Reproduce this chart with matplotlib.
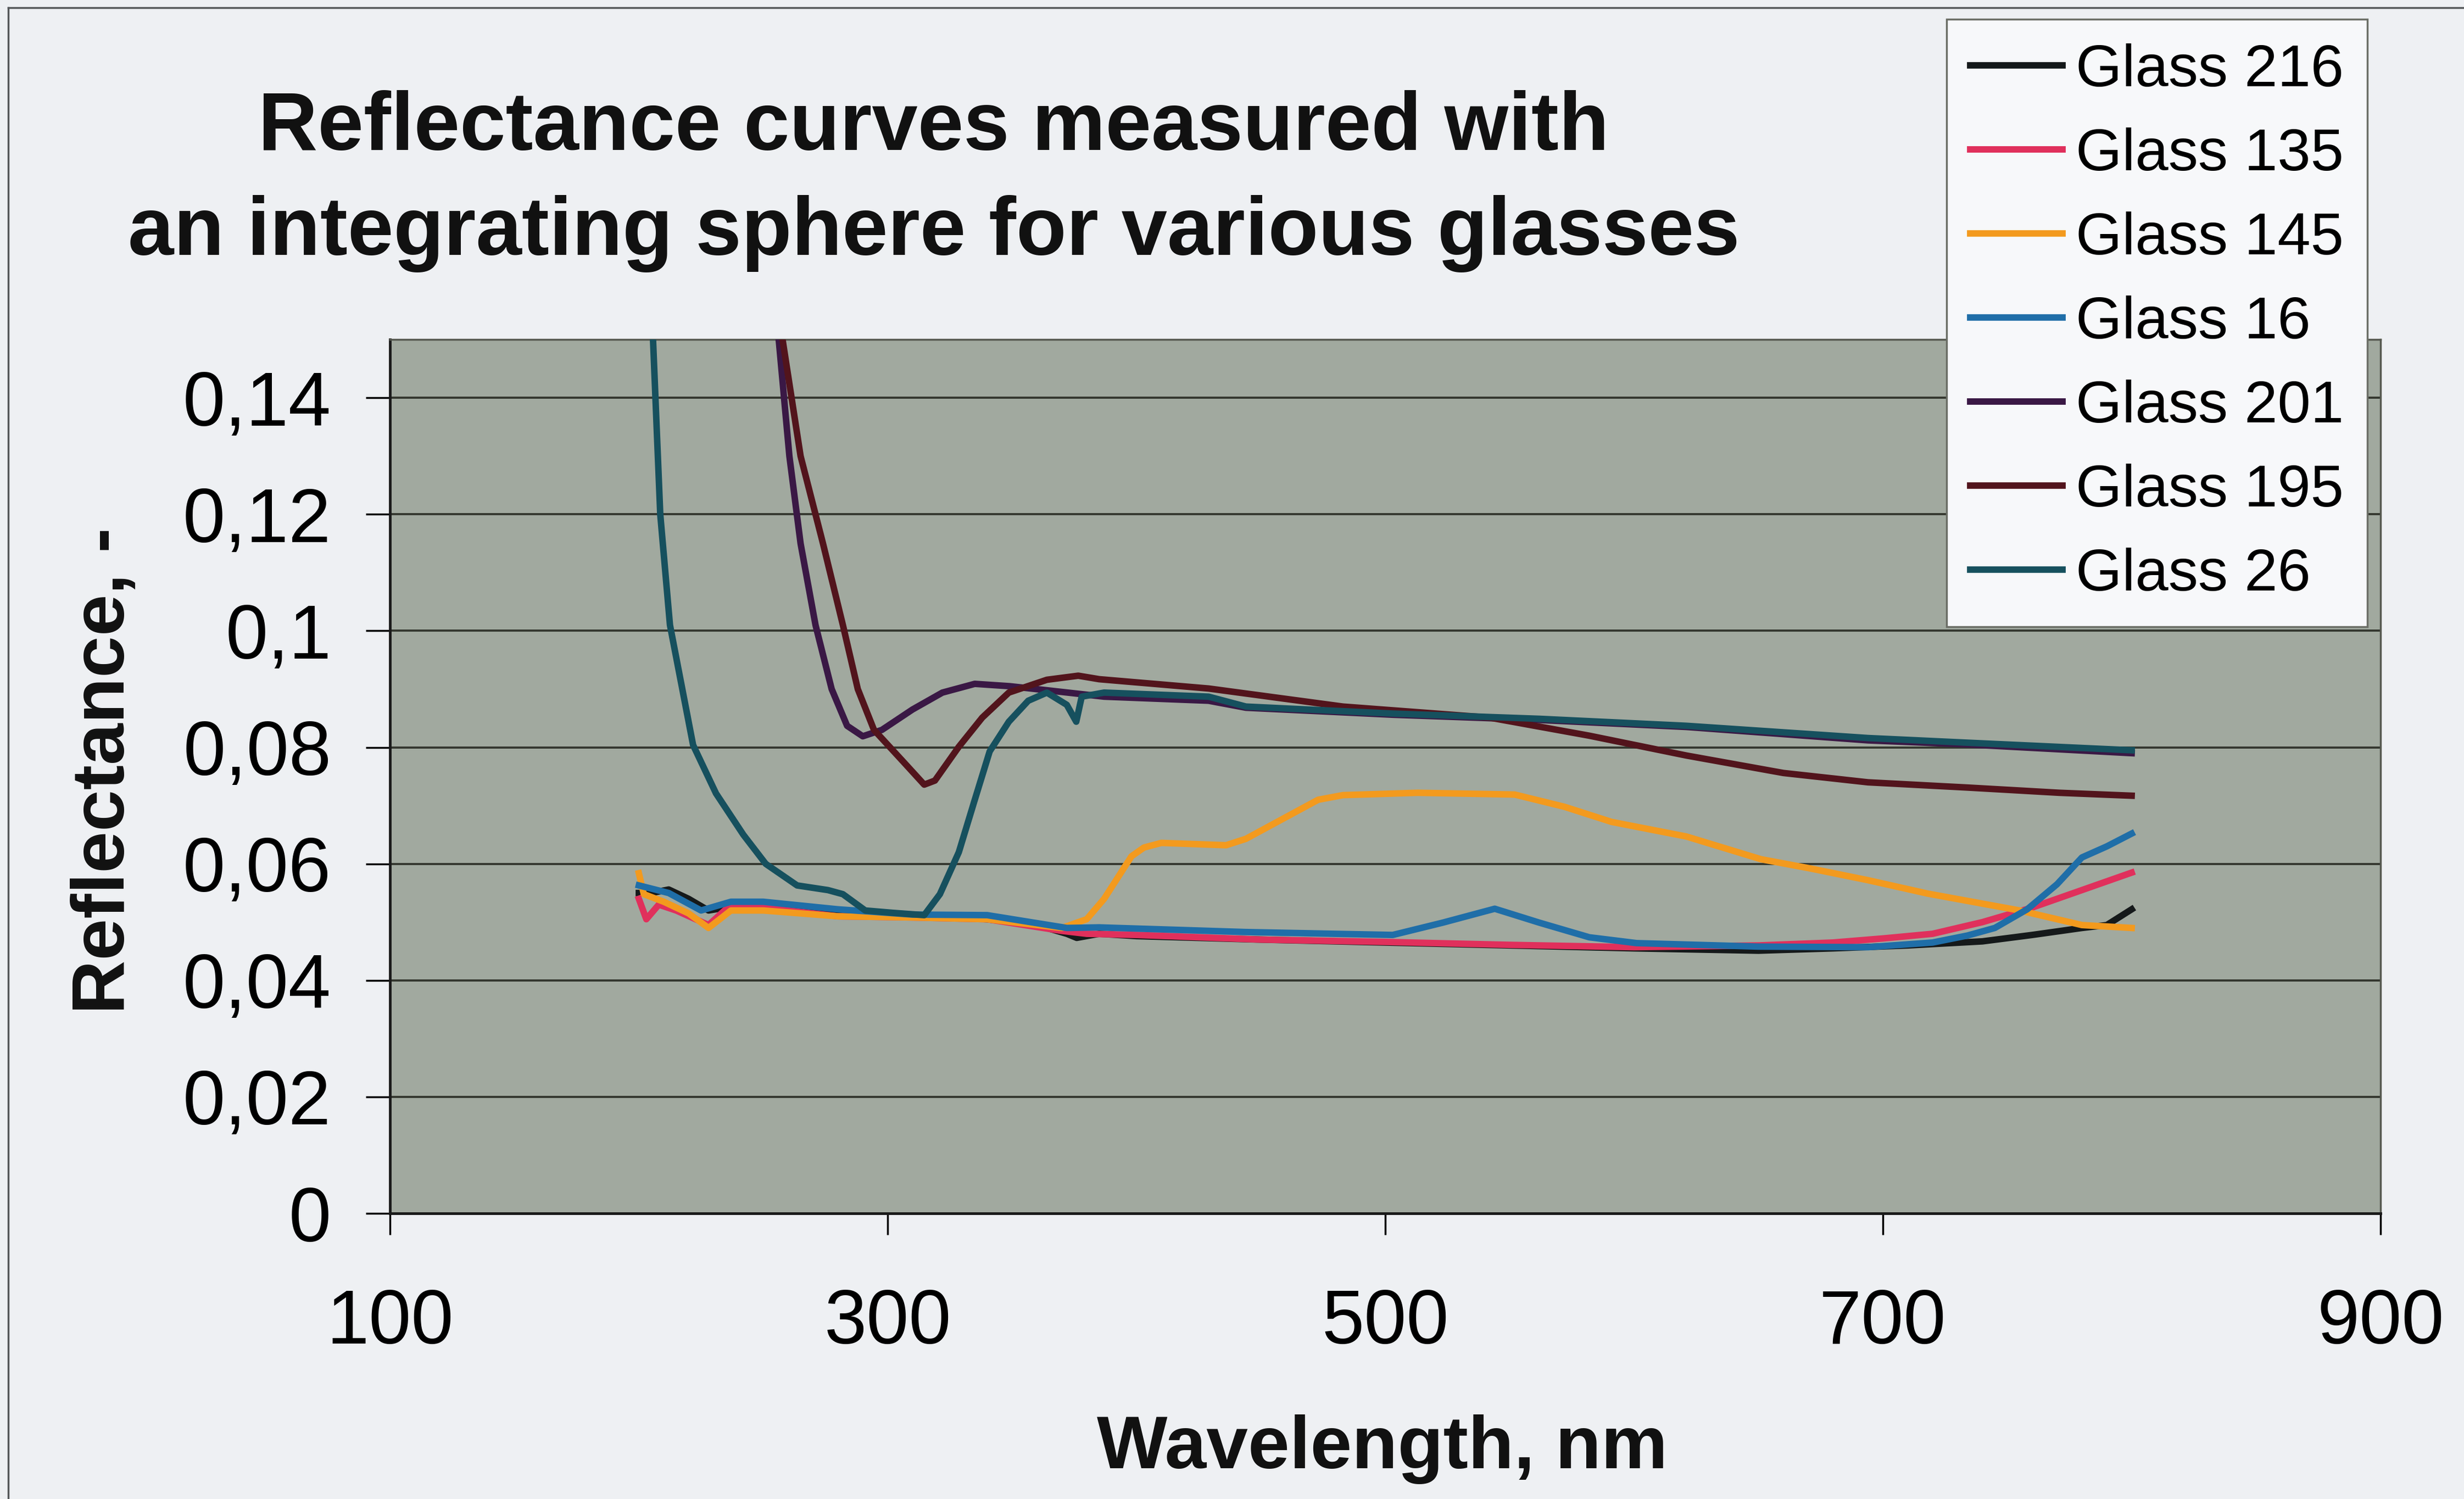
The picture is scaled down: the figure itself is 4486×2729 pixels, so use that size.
import numpy as np
import matplotlib
matplotlib.use("Agg")
import matplotlib.pyplot as plt
from matplotlib.lines import Line2D

plt.rcParams['font.family'] = ['Liberation Sans', 'DejaVu Sans']

# 数据
wl_216 = [200, 205, 212, 220, 228, 235, 245, 260, 280, 300, 320, 340, 360, 372, 376, 385, 400,
          450, 500, 550, 600, 650, 680, 710, 740, 760, 780, 790, 800]
r_216 = [0.055, 0.055, 0.0556, 0.054, 0.052, 0.0525, 0.053, 0.0525, 0.052, 0.0512, 0.051, 0.0505,
         0.0495, 0.048, 0.0473, 0.048, 0.0476, 0.047, 0.0465, 0.046, 0.0455, 0.0451, 0.0455, 0.046,
         0.0467, 0.0478, 0.049, 0.0495, 0.0522]

wl_135 = [200, 203, 208, 215, 228, 237, 250, 280, 310, 340, 370, 380, 400, 450, 500, 550, 600,
          650, 680, 700, 720, 740, 760, 780, 800]
r_135 = [0.054, 0.0505, 0.053, 0.052, 0.0495, 0.053, 0.0525, 0.051, 0.0508, 0.0505, 0.0485, 0.048,
         0.0478, 0.047, 0.0466, 0.0461, 0.0457, 0.046, 0.0465, 0.0472, 0.048, 0.050, 0.0525, 0.0555,
         0.0585]

wl_145 = [200, 202, 210, 220, 228, 237, 250, 280, 310, 340, 370, 380, 387, 398, 403, 410, 436, 444,
          460, 473, 483, 513, 552, 572, 591, 621, 651, 671, 694, 718, 755, 780, 800]
r_145 = [0.0584, 0.0548, 0.0535, 0.0515, 0.049, 0.052, 0.052, 0.051, 0.0508, 0.0505, 0.049, 0.0505,
         0.054, 0.0613, 0.0628, 0.0636, 0.0632, 0.0643, 0.068, 0.071, 0.0718, 0.0722, 0.0719, 0.0698,
         0.0672, 0.0647, 0.0608, 0.0592, 0.0572, 0.0549, 0.052, 0.0495, 0.049]

wl_16 = [200, 212, 225, 237, 250, 280, 310, 340, 372, 385, 444, 503, 523, 544, 562, 582, 601, 650,
         694, 720, 734, 745, 758, 770, 780, 790, 800]
r_16 = [0.0563, 0.055, 0.052, 0.0535, 0.0535, 0.0522, 0.0513, 0.0512, 0.049, 0.0491, 0.0483, 0.0478,
        0.0499, 0.0523, 0.0499, 0.0474, 0.0464, 0.0458, 0.0457, 0.0465, 0.0477, 0.049, 0.0522, 0.0565,
        0.0611, 0.063, 0.0652]

wl_201 = [200, 240, 256, 260.5, 265, 271, 277.5, 283.7, 290, 297.7, 310, 322, 335, 349, 364, 387,
          429, 444, 503, 562, 621, 694, 734, 800]
r_201 = [0.30, 0.22, 0.151, 0.13, 0.115, 0.101, 0.090, 0.0837, 0.0819, 0.083, 0.0865, 0.0894, 0.0909,
         0.0905, 0.0898, 0.0887, 0.088, 0.0868, 0.0856, 0.0847, 0.0835, 0.0812, 0.0805, 0.079]

wl_195 = [200, 240, 257.4, 265, 274, 282, 288, 294.5, 307, 314.7, 319, 328.6, 338, 348.7, 364, 376.6,
          385, 429, 483, 542, 582, 621, 660, 694, 734, 771, 800]
r_195 = [0.30, 0.20, 0.151, 0.13, 0.115, 0.101, 0.090, 0.083, 0.0772, 0.0736, 0.0743, 0.0801, 0.0851,
         0.0894, 0.0916, 0.0923, 0.0917, 0.0901, 0.087, 0.0851, 0.082, 0.0786, 0.0756, 0.074, 0.0731,
         0.0722, 0.0717]

wl_26 = [200, 205.6, 208.6, 212.5, 221.8, 231, 242, 251, 263.6, 276, 282, 291, 302, 314.7, 321, 328.6,
         334.8, 341, 348.7, 356.5, 364, 372, 375.8, 378, 387, 429, 444, 503, 562, 621, 694, 734, 800]
r_26 = [0.22, 0.151, 0.12, 0.101, 0.0804, 0.0721, 0.065, 0.060, 0.0563, 0.0555, 0.0548, 0.052, 0.0516,
        0.0512, 0.0548, 0.062, 0.0707, 0.0793, 0.0844, 0.088, 0.0894, 0.0873, 0.0844, 0.0887, 0.0894,
        0.0887, 0.087, 0.0858, 0.0849, 0.0837, 0.0816, 0.0808, 0.0795]

names = ['Glass 216', 'Glass 135', 'Glass 145', 'Glass 16', 'Glass 201', 'Glass 195', 'Glass 26']
colors = ['#15191a', '#e0305c', '#f39a1e', '#1f6ea8', '#3a1845', '#52141c', '#16505e']
series = [(wl_216, r_216), (wl_135, r_135), (wl_145, r_145), (wl_16, r_16),
          (wl_201, r_201), (wl_195, r_195), (wl_26, r_26)]

x_ticks = [100, 300, 500, 700, 900]
y_ticks = [0, 0.02, 0.04, 0.06, 0.08, 0.1, 0.12, 0.14]
y_tick_labels = ['0', '0,02', '0,04', '0,06', '0,08', '0,1', '0,12', '0,14']

# 画图
fig = plt.figure(figsize=(44.86, 27.29), dpi=100, facecolor='#eef0f3')
ax = fig.add_axes([0.1583, 0.1905, 0.8078, 0.583])
ax.set_facecolor('#a1a99f')

for (wl, r), c in zip(series, colors):
    ax.plot(wl, r, color=c, lw=8.5, solid_joinstyle='round', zorder=3)

ax.set_xlim(100, 900)
ax.set_ylim(0, 0.15)
ax.set_xticks(x_ticks)
ax.set_yticks(y_ticks)
ax.set_yticklabels(y_tick_labels)
ax.tick_params(axis='y', direction='out', length=32, width=2.5, pad=45, labelsize=100)
ax.tick_params(axis='x', direction='out', length=28, width=2.5, pad=70, labelsize=100)
ax.yaxis.grid(True, color='#34372f', lw=2.8)
ax.set_axisbelow(True)

for s in ['top', 'right']:
    ax.spines[s].set_color('#55584f')
    ax.spines[s].set_linewidth(2.5)
for s in ['left', 'bottom']:
    ax.spines[s].set_color('#1a1a1a')
    ax.spines[s].set_linewidth(3.5)

fig.text(0.379, 0.879, "Reflectance curves measured with\nan integrating sphere for various glasses",
         ha='center', va='center', fontsize=108, fontweight='bold', linespacing=1.47, color='#111111')
fig.text(0.561, 0.033, "Wavelength, nm", ha='center', va='center', fontsize=98, fontweight='bold',
         color='#111111')
fig.text(0.0425, 0.486, "Reflectance, -", ha='center', va='center', rotation=90, fontsize=98,
         fontweight='bold', color='#111111')

handles = [Line2D([], [], color=c, lw=8.5) for c in colors]
leg = fig.legend(handles, names, loc='upper left', bbox_to_anchor=(0.790, 0.987), fontsize=78,
                 frameon=True, fancybox=False, handlelength=1.55, handletextpad=0.22,
                 labelspacing=0.49, borderpad=0.4, borderaxespad=0)
leg.get_frame().set_facecolor('#f7f8fa')
leg.get_frame().set_edgecolor('#6b6e66')
leg.get_frame().set_linewidth(2.5)
leg.get_frame().set_alpha(1)

# 外框
fig.add_artist(Line2D([0.0033, 0.0033], [0, 0.995], color='#55585a', lw=2.5))
fig.add_artist(Line2D([0.0033, 1.0], [0.995, 0.995], color='#55585a', lw=2.5))

fig.savefig('out.png', dpi=100, facecolor=fig.get_facecolor())
